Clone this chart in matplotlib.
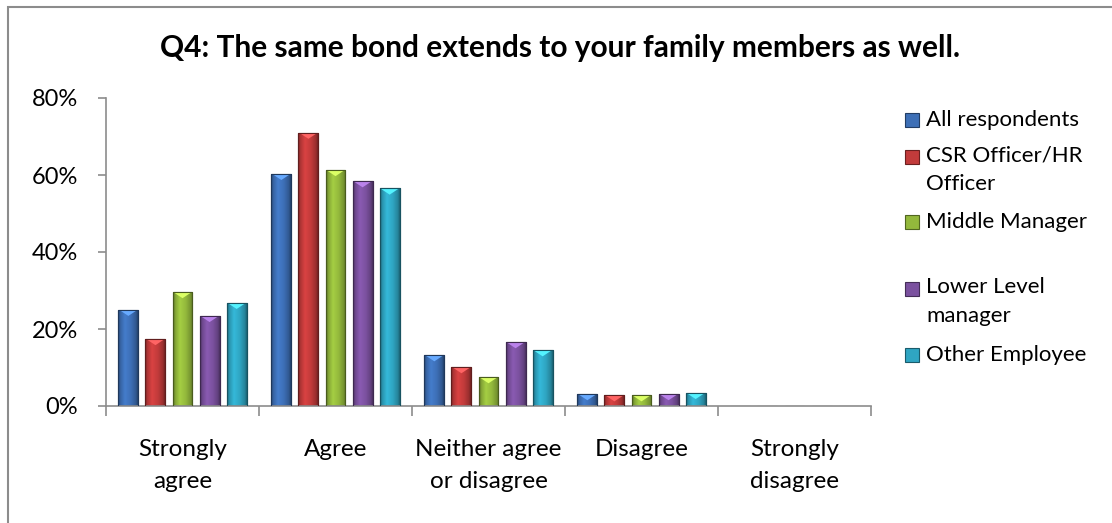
import numpy as np
import matplotlib
matplotlib.use("Agg")
import matplotlib.pyplot as plt
from matplotlib.patches import Rectangle, Polygon
from matplotlib.colors import to_rgb

plt.rcParams['font.family'] = ['Lato', 'DejaVu Sans']

categories = ["Strongly\nagree", "Agree", "Neither agree\nor disagree", "Disagree", "Strongly\ndisagree"]
series = ["All respondents", "CSR Officer/HR\nOfficer", "Middle Manager", "Lower Level\nmanager", "Other Employee"]

all_resp = [25.0, 60.3, 13.2, 3.1, 0.0]
csr_hr = [17.4, 71.0, 10.1, 2.8, 0.0]
middle = [29.6, 61.3, 7.5, 2.8, 0.0]
lower = [23.4, 58.4, 16.6, 3.1, 0.0]
other = [26.8, 56.5, 14.5, 3.4, 0.0]

values = [all_resp, csr_hr, middle, lower, other]
colors = ["#3d6fb6", "#c23b3b", "#93b83c", "#7b519f", "#2fa5c2"]

fig = plt.figure(figsize=(11.12, 5.23), dpi=100)
ax = fig.add_axes([106 / 1112, 117 / 523, 765 / 1112, 308 / 523])

# outer chart frame (runs off the right and bottom edge)
fig.add_artist(Rectangle((8 / 1112, -0.1), 1.2, 1.1 - 7 / 523, transform=fig.transFigure,
                         fill=False, edgecolor="#8c8c8c", lw=1.5))

n = len(series)
width = 0.13
step = 0.177
x = np.arange(len(categories))
# horizontal shading across a bar: dark edges, bright left-of-centre
prof_x = np.linspace(0, 1, 60)
shade = np.interp(prof_x, [0, 0.12, 0.35, 0.65, 0.9, 1], [0.62, 0.9, 1.12, 1.0, 0.8, 0.6])

for i, (vals, col) in enumerate(zip(values, colors)):
    rgb = np.array(to_rgb(col))
    xs = x + (i - (n - 1) / 2) * step
    bars = ax.bar(xs, vals, width, color=col, edgecolor=tuple(rgb * 0.55), lw=0.8, zorder=2)
    for b, v in zip(bars, vals):
        if v <= 0:
            continue
        x0 = b.get_x()
        grad = np.clip(rgb[None, None, :] * shade[None, :, None], 0, 1)
        im = ax.imshow(grad, extent=(x0, x0 + width, 0, v), aspect="auto", zorder=2.5,
                       interpolation="bilinear")
        im.set_clip_path(b)
        # bevelled top
        d = min(1.6, v * 0.6)
        light = np.clip(rgb * 1.35 + 0.08, 0, 1)
        ax.add_patch(Polygon([[x0 + 0.01, v - 0.15], [x0 + width - 0.01, v - 0.15],
                              [x0 + width / 2, v - d]], closed=True,
                             facecolor=light, edgecolor="none", zorder=3))
        ax.add_patch(Rectangle((x0, 0), width, v, fill=False,
                               edgecolor=tuple(rgb * 0.5), lw=0.8, zorder=3.5))

ax.set_xlim(-0.5, len(categories) - 0.5)
ax.set_ylim(0, 80)
ax.set_yticks([0, 20, 40, 60, 80])
ax.set_yticklabels(["0%", "20%", "40%", "60%", "80%"], fontsize=17)
ax.set_xticks(np.arange(-0.5, len(categories), 1))
ax.set_xticklabels([])
ax.set_xticks(x, minor=True)
ax.set_xticklabels(categories, minor=True, fontsize=17.5, linespacing=1.6)
ax.tick_params(axis="x", which="minor", length=0, pad=24)
ax.tick_params(axis="x", which="major", length=7, color="#8c8c8c", width=1.2, direction="out")
ax.tick_params(axis="y", length=6, color="#8c8c8c", width=1.2, pad=14)
for s in ["top", "right"]:
    ax.spines[s].set_visible(False)
for s in ["left", "bottom"]:
    ax.spines[s].set_color("#8c8c8c")
    ax.spines[s].set_linewidth(1.2)

fig.text(560 / 1112, 1 - 48 / 523, "Q4: The same bond extends to your family members as well.",
         ha="center", va="center", fontsize=21.5, fontweight="bold")

# legend drawn by hand to follow the uneven Excel spacing
leg_y = [120, 157, 222, 289, 355]
for lab, col, yy in zip(series, colors, leg_y):
    rgb = np.array(to_rgb(col))
    fig.add_artist(Rectangle((905 / 1112, 1 - (yy + 7) / 523), 14 / 1112, 14 / 523,
                             transform=fig.transFigure, facecolor=col,
                             edgecolor=tuple(rgb * 0.55), lw=0.8))
    if "\n" in lab:
        fig.text(926 / 1112, 1 - (yy - 12) / 523, lab, ha="left", va="top",
                 fontsize=16, linespacing=1.55)
    else:
        fig.text(926 / 1112, 1 - yy / 523, lab, ha="left", va="center", fontsize=16)

fig.savefig("out.png", dpi=100)
